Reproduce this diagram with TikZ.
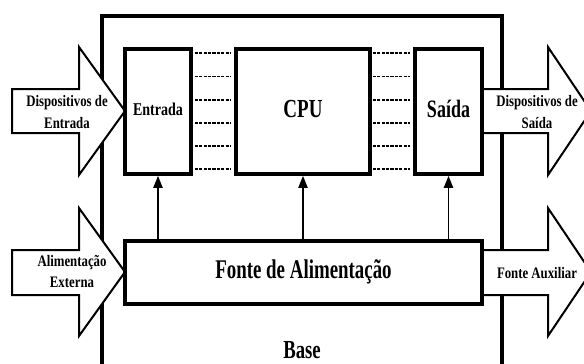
\documentclass[tikz,border=0pt]{standalone}
\usepackage{fontspec}
\usepackage{graphicx}
\setmainfont{Liberation Serif}
\usetikzlibrary{arrows.meta}
\newcommand\lbl[4]{{\fontsize{#1}{#2}\selectfont\bfseries\scalebox{#3}[1]{\begin{tabular}{@{}c@{}}#4\end{tabular}}}}
\begin{document}
\begin{tikzpicture}[x=1pt,y=-1pt,
  box/.style={draw, line width=3.5pt, fill=white, inner sep=0pt},
  frame/.style={draw, line width=4pt, inner sep=0pt},
  blockarrow/.style={draw, line width=2pt, fill=white, line join=miter},
  bus/.style={line width=1.9pt, dash pattern=on 3.3pt off 1.1pt},
  feed/.style={line width=1.8pt, -{Triangle[length=12pt,width=9pt]}},
  txt/.style={inner sep=0pt}]
\useasboundingbox (0,0) rectangle (584,364);
\clip (0,0) rectangle (584,364);
% base frame
\node[frame, minimum width=400pt, minimum height=360pt] (base) at (302,196) {};
\node[txt] (baselbl) at (302,352) {\lbl{26}{30}{0.72}{Base}};
% block arrows
\draw[blockarrow] (12,89) -- (79,89) -- (79,47) -- (125,111) -- (79,175) -- (79,133) -- (12,133) -- cycle;
\node[txt] (din) at (67,113) {\lbl{16}{22}{0.8}{Dispositivos de\\Entrada}};
\draw[blockarrow] (12,250) -- (79,250) -- (79,208) -- (125,272) -- (79,336) -- (79,295) -- (12,295) -- cycle;
\node[txt] (ain) at (72,273) {\lbl{16}{21}{0.8}{Alimentação\\Externa}};
\draw[blockarrow] (482,89) -- (548,89) -- (548,47) -- (591,111) -- (548,175) -- (548,133) -- (482,133);
\node[txt] (dout) at (537,113) {\lbl{16}{22}{0.8}{Dispositivos de\\Saída}};
\draw[blockarrow] (482,250) -- (548,250) -- (548,208) -- (591,272) -- (548,336) -- (548,295) -- (482,295);
\node[txt] (aux) at (537,274) {\lbl{16}{22}{0.8}{Fonte Auxiliar}};
% boxes
\node[box, minimum width=66pt, minimum height=125pt] (E) at (158,111.5) {\lbl{18}{22}{0.78}{Entrada}};
\node[box, minimum width=134pt, minimum height=125pt] (C) at (303,111.5) {\lbl{26}{30}{0.73}{CPU}};
\node[box, minimum width=67pt, minimum height=125pt] (S) at (448.5,111.5) {\lbl{25}{30}{0.72}{Saída}};
\node[box, minimum width=357pt, minimum height=63pt] (F) at (303.5,272.5) {\lbl{27}{30}{0.7}{Fonte de Alimentação}};
% buses
\foreach \y in {53.3,76.5,99.7,122.9,146.1,169.3} {
  \draw[bus, shorten <=2pt, shorten >=4pt] (E.east |- 0,\y) -- (C.west |- 0,\y);
  \draw[bus, shorten <=1pt, shorten >=3pt] (C.east |- 0,\y) -- (S.west |- 0,\y);
}
% power feeds
\foreach \n in {E,C,S} \draw[feed] (F.north -| \n.south) -- (\n.south);
\end{tikzpicture}
\end{document}
